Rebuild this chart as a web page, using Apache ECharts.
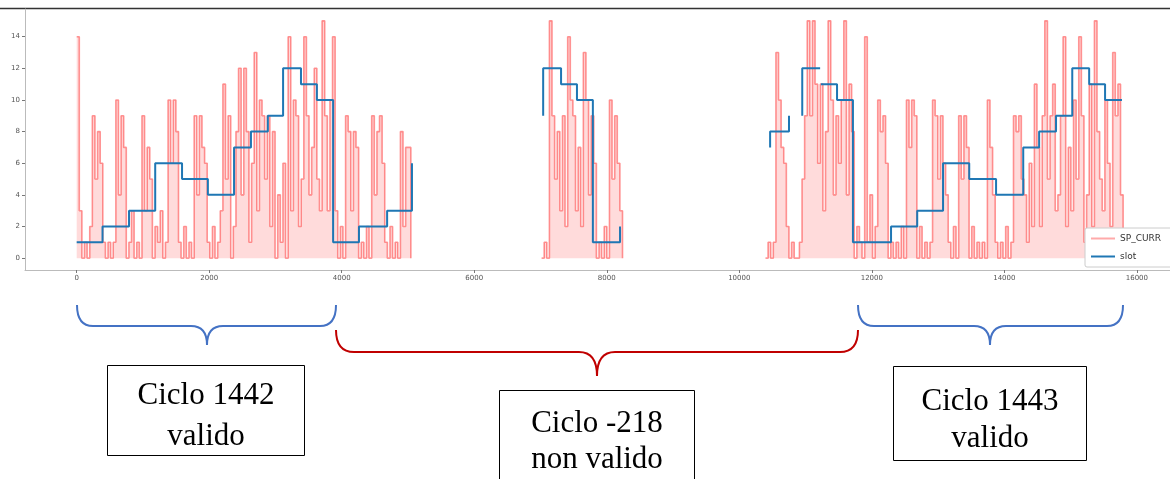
<!DOCTYPE html>
<html>
<head>
<meta charset="utf-8">
<script src="https://cdn.jsdelivr.net/npm/echarts@6/dist/echarts.min.js"></script>
<style>
  html, body { margin: 0; padding: 0; background: #fff; }
  #chart { width: 1170px; height: 479px; }
</style>
</head>
<body>
<div id="chart"></div>
<script>
// ---------- data ----------
const xTicks = [0, 2000, 4000, 6000, 8000, 10000, 12000, 14000, 16000];
const yTicks = [0, 2, 4, 6, 8, 10, 12, 14];

// slot (step line); null = gap in the recording
const slotX = [0, 390, 790, 1185, 1590, 1980, 2375, 2630, 2885, 3115, 3385, 3625, 3870, 4260, 4685, 5060,
  5060,
  7040, 7040, 7310, 7550, 7790, 8200,
  8200,
  10465, 10465, 10750,
  10750,
  10950, 10950, 11220,
  11220,
  11230, 11475, 11715, 12290, 12685, 13075, 13470, 13875, 14285, 14525, 14780, 15025, 15280, 15520, 15775];
const slotY = [1, 2, 3, 6, 5, 4, 7, 8, 9, 12, 11, 10, 1, 2, 3, 6,
  null,
  9, 12, 11, 10, 1, 2,
  null,
  7, 8, 9,
  null,
  9, 12, 12,
  null,
  11, 10, 1, 2, 3, 6, 5, 4, 7, 8, 9, 12, 11, 10, 10];

// SP_CURR samples, three recorded stretches (sample spacing in x units)
const spStep = 39.4;
const spStart1 = 0;
const spCurr1 = [14, 3, 0, 1, 0, 2, 9, 5, 8, 6, 1, 0, 1, 0, 1, 10, 4, 9, 7, 0,
  1, 3, 0, 1, 0, 9, 3, 7, 5, 0, 2, 1, 3, 0, 1, 10, 6, 10, 8, 1,
  0, 2, 0, 1, 0, 9, 4, 9, 7, 6, 1, 0, 2, 0, 1, 3, 11, 5, 9, 0,
  2, 8, 12, 4, 12, 8, 1, 6, 13, 3, 10, 9, 5, 9, 2, 8, 0, 4, 1, 6,
  0, 14, 3, 10, 9, 2, 5, 14, 9, 4, 7, 12, 5, 3, 15, 9, 3, 10, 14, 3,
  0, 2, 0, 9, 8, 3, 8, 7, 0, 1, 0, 2, 0, 9, 4, 8, 9, 6, 1, 0,
  2, 0, 1, 0, 8, 2, 7, 7, 0];
const spStart2 = 7016;
const spCurr2 = [0, 1, 0, 15, 9, 5, 8, 3, 9, 2, 14, 10, 9, 3, 7, 2, 13, 10, 4, 9,
  6, 0, 1, 0, 2, 0, 10, 5, 9, 6, 3, 0];
const spStart3 = 10395;
const spCurr3 = [0, 1, 0, 1, 13, 10, 7, 6, 2, 0, 1, 0, 0, 1, 5, 9, 15, 9, 15, 11,
  6, 11, 3, 8, 15, 10, 4, 9, 6, 10, 15, 4, 11, 8, 0, 2, 1, 0, 14, 1,
  4, 0, 2, 10, 8, 9, 6, 0, 1, 0, 1, 0, 2, 0, 10, 7, 10, 9, 0, 2,
  0, 1, 0, 1, 10, 9, 5, 9, 6, 4, 1, 0, 2, 0, 9, 5, 9, 7, 0, 2,
  0, 1, 0, 1, 0, 10, 7, 4, 1, 0, 1, 0, 2, 0, 1, 9, 8, 9, 5, 4,
  1, 6, 2, 11, 7, 2, 9, 15, 5, 9, 11, 3, 4, 9, 14, 2, 7, 3, 10, 5,
  14, 9, 1, 4, 11, 2, 15, 8, 5, 3, 10, 6, 2, 13, 9, 11, 4, 0];

const legendNames = ['SP_CURR', 'slot'];
const notes = [
  { l1: 'Ciclo 1442', l2: 'valido' },
  { l1: 'Ciclo -218', l2: 'non valido' },
  { l1: 'Ciclo 1443', l2: 'valido' }
];

// ---------- build series data ----------
function seg(start, vals) {
  const pts = vals.map((v, i) => [start + i * spStep, v]);
  pts.push([start + (vals.length - 1) * spStep, '-']);   // gap after the stretch
  return pts;
}
const spData = [].concat(seg(spStart1, spCurr1), seg(spStart2, spCurr2), seg(spStart3, spCurr3));
const slotData = slotX.map((x, i) => [x, slotY[i] === null ? '-' : slotY[i]]);

const serif = 'Liberation Serif';
const blue = '#4472c4', dark = '#c00000';
const redLine = 'rgba(255,0,0,0.4)';
const slotBlue = '#1f77b4';

// curly brace decoration made of curves and lines
function brace(xL, xR, xc, yEnd, yBar, yTip, r, color) {
  const st = { fill: null, stroke: color, lineWidth: 2 };
  const q = (x1, y1, cx, cy, x2, y2) => ({ type: 'bezierCurve', shape: { x1, y1, cpx1: cx, cpy1: cy, x2, y2 }, style: st });
  const l = (x1, y1, x2, y2) => ({ type: 'line', shape: { x1, y1, x2, y2 }, style: st });
  return [
    q(xL, yEnd, xL, yBar, xL + r, yBar),
    l(xL + r, yBar, xc - r, yBar),
    q(xc - r, yBar, xc, yBar, xc, yTip),
    q(xc, yTip, xc, yBar, xc + r, yBar),
    l(xc + r, yBar, xR - r, yBar),
    q(xR - r, yBar, xR, yBar, xR, yEnd)
  ];
}
function label(x, y, t) {
  return { type: 'text', x, y, style: { text: t, font: '31px "' + serif + '"', fill: '#000', textAlign: 'center', textVerticalAlign: 'middle' } };
}

const chart = echarts.init(document.getElementById('chart'), null, { renderer: 'canvas' });
const tickFont = { fontFamily: 'DejaVu Sans', fontSize: 7, color: '#555' };

const option = {
  animation: false,
  backgroundColor: '#fff',
  grid: { left: 25, right: 0, top: 9, bottom: 209 },
  xAxis: {
    type: 'value', min: -780, max: 16500,
    splitLine: { show: false },
    axisLine: { show: true, onZero: false, lineStyle: { color: '#bbb', width: 1 } },
    axisTick: { show: true, length: 3, lineStyle: { color: '#777' }, customValues: xTicks },
    axisLabel: Object.assign({ margin: 5, customValues: xTicks, formatter: v => String(v) }, tickFont)
  },
  yAxis: {
    type: 'value', min: -0.75, max: 15.75,
    splitLine: { show: false },
    axisLine: { show: true, onZero: false, lineStyle: { color: '#bbb', width: 1 } },
    axisTick: { show: true, length: 3, lineStyle: { color: '#777' }, customValues: yTicks },
    axisLabel: Object.assign({ margin: 5, customValues: yTicks, formatter: v => String(v) }, tickFont)
  },
  legend: {
    data: [
      { name: legendNames[0], icon: 'rect', itemStyle: { color: '#ffaaaa' } },
      { name: legendNames[1], icon: 'rect', itemStyle: { color: slotBlue } }
    ],
    orient: 'vertical',
    left: 1085, top: 228,
    padding: [6, 20, 6, 6],
    itemGap: 9,
    itemWidth: 24, itemHeight: 2,
    backgroundColor: '#fff',
    borderColor: '#ccc', borderWidth: 1, borderRadius: 2,
    textStyle: { fontFamily: 'DejaVu Sans', fontSize: 9, color: '#333' }
  },
  series: [
    {
      name: 'SP_CURR', type: 'line', data: spData, step: 'end',
      symbol: 'none', connectNulls: false,
      lineStyle: { color: redLine, width: 1.6 },
      areaStyle: { color: 'rgba(255,0,0,0.2)', origin: 0 },
      itemStyle: { color: '#ffaaaa' },
      z: 2
    },
    {
      name: 'slot', type: 'line', data: slotData, step: 'end',
      symbol: 'none', connectNulls: false,
      lineStyle: { color: slotBlue, width: 2 },
      itemStyle: { color: slotBlue },
      z: 3
    }
  ],
  graphic: [
    { type: 'line', shape: { x1: 0, y1: 8.5, x2: 1170, y2: 8.5 }, style: { stroke: '#333', lineWidth: 1.5 } }
  ].concat(
    brace(77, 336, 207, 305, 326, 345, 16, blue),
    brace(336, 858, 597, 330, 352, 376, 18, dark),
    brace(858, 1123, 990, 305, 326, 345, 16, blue),
    [
      { type: 'rect', shape: { x: 107.5, y: 365.5, width: 197, height: 90 }, style: { fill: '#fff', stroke: '#000', lineWidth: 1 } },
      { type: 'rect', shape: { x: 499.5, y: 390.5, width: 195, height: 100 }, style: { fill: '#fff', stroke: '#000', lineWidth: 1 } },
      { type: 'rect', shape: { x: 893.5, y: 366.5, width: 193, height: 94 }, style: { fill: '#fff', stroke: '#000', lineWidth: 1 } },
      label(206, 396, notes[0].l1), label(206, 437, notes[0].l2),
      label(597, 424, notes[1].l1), label(597, 460, notes[1].l2),
      label(990, 402, notes[2].l1), label(990, 439, notes[2].l2)
    ]
  )
};
chart.setOption(option);
</script>
</body>
</html>
